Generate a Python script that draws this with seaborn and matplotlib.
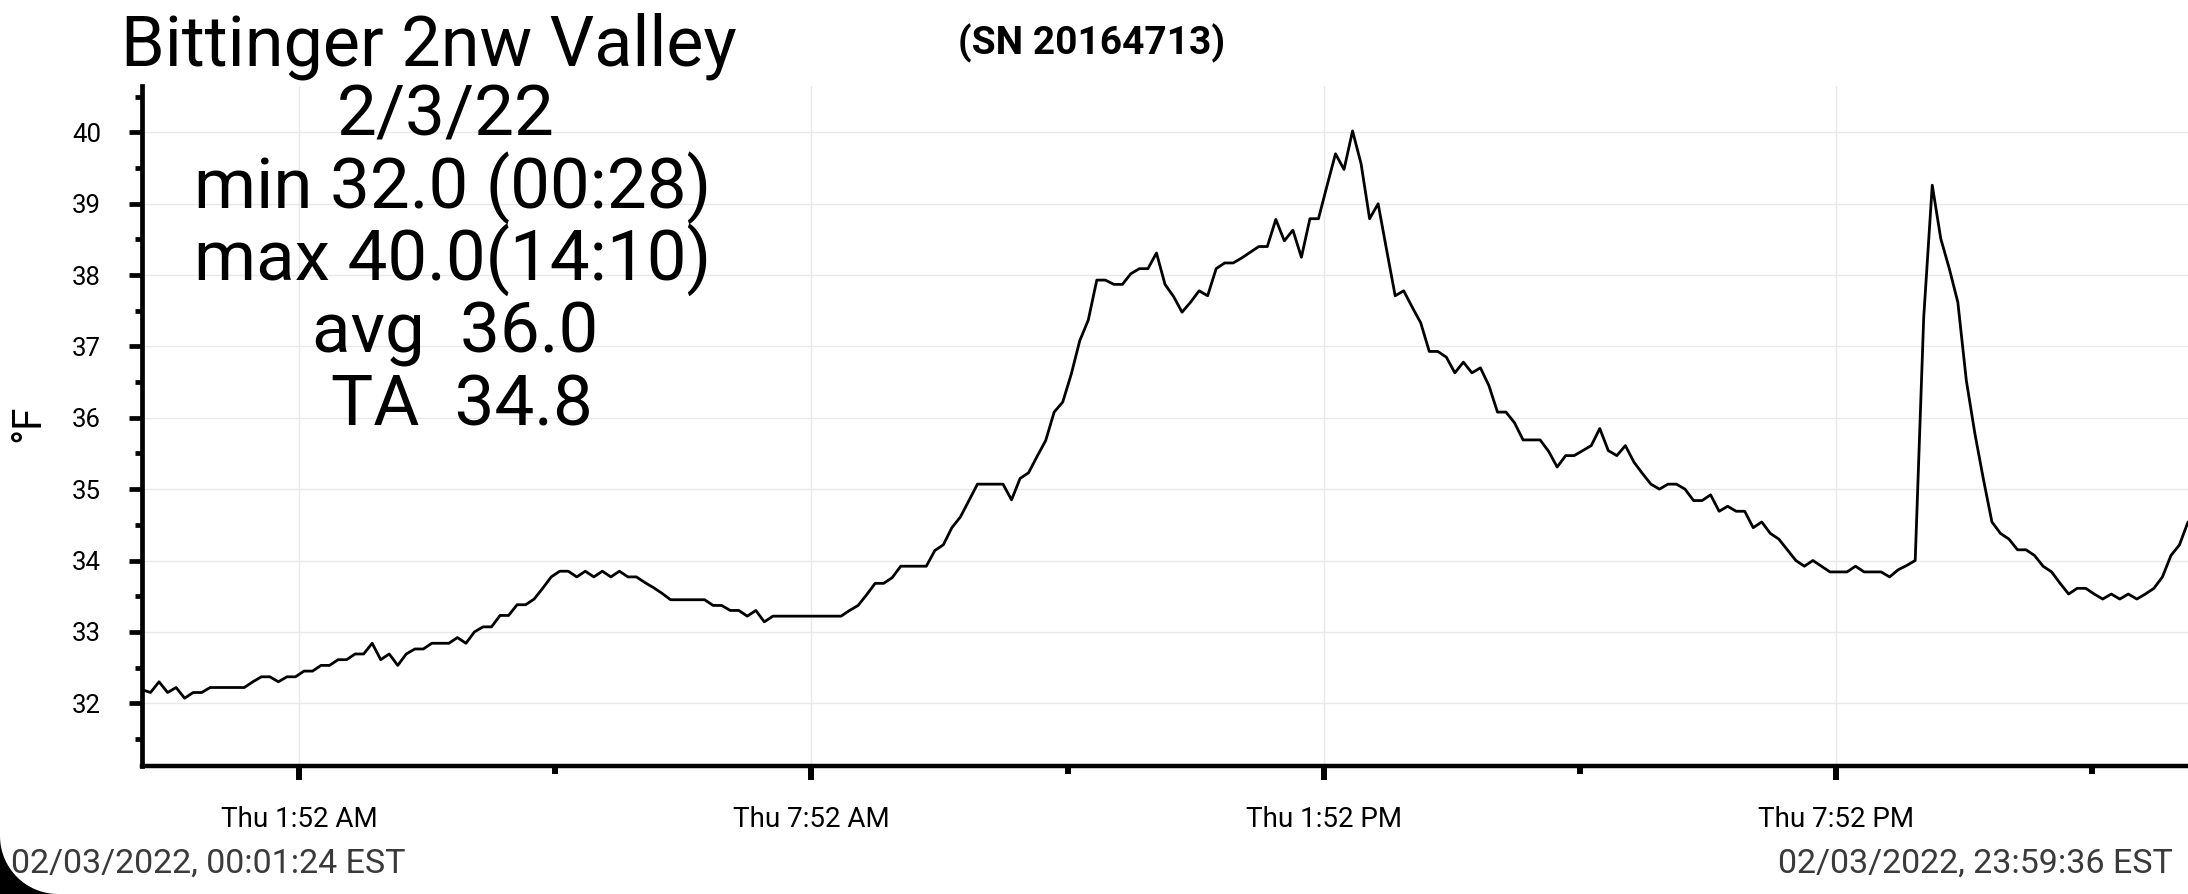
import matplotlib
matplotlib.use("Agg")
import matplotlib.pyplot as plt
import matplotlib.dates as mdates
from matplotlib.patches import Polygon
import seaborn as sns
import pandas as pd
import numpy as np

# ---- data ----
station = "Bittinger 2nw Valley"
serial = "(SN 20164713)"
stats_lines = ["2/3/22", "min 32.0 (00:28)", "max 40.0(14:10)", "avg  36.0", "TA  34.8"]
start_label = "02/03/2022, 00:01:24 EST"
end_label = "02/03/2022, 23:59:36 EST"
first_time = "2022-02-03 00:01:24"
last_time = "2022-02-03 23:59:36"

temps = [
    # 00:00 - 06:00
    32.19, 32.15, 32.30, 32.15, 32.22, 32.07, 32.15, 32.15, 32.22, 32.22,
    32.22, 32.22, 32.22, 32.30, 32.37, 32.37, 32.30, 32.37, 32.37, 32.45,
    32.45, 32.53, 32.53, 32.61, 32.61, 32.69, 32.69, 32.84, 32.61, 32.69,
    32.53, 32.69, 32.76, 32.76, 32.84, 32.84, 32.84, 32.92, 32.84, 33.00,
    33.07, 33.07, 33.23, 33.23, 33.38, 33.38, 33.46, 33.61, 33.77, 33.85,
    33.85, 33.77, 33.85, 33.77, 33.85, 33.77, 33.85, 33.77, 33.77, 33.69,
    33.62, 33.54,
    # 06:00 - 10:45
    33.45, 33.45, 33.45, 33.45, 33.45, 33.37, 33.37, 33.30, 33.30, 33.22,
    33.30, 33.14, 33.22, 33.22, 33.22, 33.22, 33.22, 33.22, 33.22, 33.22,
    33.22, 33.30, 33.37, 33.52, 33.68, 33.68, 33.76, 33.92, 33.92, 33.92,
    33.92, 34.14, 34.22, 34.46, 34.61, 34.84, 35.07, 35.07, 35.07, 35.07,
    34.85, 35.15, 35.23, 35.46, 35.68, 36.08, 36.22,
    # 10:45 - 15:15
    36.61, 37.08, 37.37, 37.93, 37.93, 37.87, 37.87, 38.02, 38.09, 38.09,
    38.31, 37.87, 37.70, 37.48, 37.62, 37.78, 37.71, 38.09, 38.17, 38.17,
    38.24, 38.32, 38.40, 38.40, 38.78, 38.48, 38.63, 38.25, 38.79, 38.79,
    39.25, 39.70, 39.48, 40.02, 39.56, 38.79, 39.00, 38.35, 37.71, 37.78,
    37.55, 37.33, 36.93, 36.93, 36.85,
    # 15:15 - 19:52
    36.63, 36.78, 36.63, 36.70, 36.45, 36.08, 36.08, 35.93, 35.69, 35.69,
    35.69, 35.53, 35.31, 35.47, 35.47, 35.54, 35.61, 35.85, 35.54, 35.47,
    35.61, 35.38, 35.22, 35.07, 35.00, 35.07, 35.07, 35.00, 34.84, 34.84,
    34.92, 34.69, 34.76, 34.69, 34.69, 34.46, 34.54, 34.38, 34.30, 34.15,
    34.00, 33.92, 34.00, 33.92, 33.84, 33.84,
    # 19:52 - 24:00
    33.84, 33.92, 33.84, 33.84, 33.84, 33.77, 33.87, 33.93, 34.00, 37.41,
    39.26, 38.51, 38.09, 37.62, 36.52, 35.78, 35.14, 34.54, 34.38, 34.30,
    34.15, 34.15, 34.07, 33.92, 33.84, 33.68, 33.53, 33.61, 33.61, 33.53,
    33.46, 33.53, 33.46, 33.53, 33.46, 33.53, 33.61, 33.77, 34.07, 34.22,
    34.54,
]

x_major = ["2022-02-03 01:52", "2022-02-03 07:52", "2022-02-03 13:52", "2022-02-03 19:52"]
x_minor = ["2022-02-03 04:52", "2022-02-03 10:52", "2022-02-03 16:52", "2022-02-03 22:52"]
y_major = [32, 33, 34, 35, 36, 37, 38, 39, 40]
y_minor = [31.5, 32.5, 33.5, 34.5, 35.5, 36.5, 37.5, 38.5, 39.5, 40.5]
y_range = [31.12, 40.65]

times = pd.date_range(first_time, last_time, periods=len(temps))
df = pd.DataFrame({"time": times, "temp": temps})

sns.set_style("white")
plt.rcParams["font.family"] = ["Roboto", "DejaVu Sans"]
plt.rcParams["text.color"] = "black"
plt.rcParams["xtick.color"] = "black"
plt.rcParams["ytick.color"] = "black"

W, H = 2188, 894
fig = plt.figure(figsize=(W / 100, H / 100), dpi=100)
ax = fig.add_axes([142 / W, 128 / H, 1 - 142 / W, 680 / H])

sns.lineplot(data=df, x="time", y="temp", color="black", linewidth=2.0, ax=ax)

ax.set_xlim(pd.Timestamp(first_time), pd.Timestamp(last_time))
ax.set_ylim(y_range)

ax.set_xticks(mdates.date2num(pd.to_datetime(x_major)))
ax.set_xticks(mdates.date2num(pd.to_datetime(x_minor)), minor=True)
ax.xaxis.set_major_formatter(mdates.DateFormatter("Thu %-I:%M %p"))
ax.set_yticks(y_major)
ax.set_yticks(y_minor, minor=True)

ax.grid(True, which="major", color="#e8e8e8", linewidth=1)
ax.set_xlabel("")
ax.set_ylabel("")

for side in ["top", "right"]:
    ax.spines[side].set_visible(False)
ax.spines["left"].set_linewidth(3.4)
ax.spines["bottom"].set_linewidth(3.2)
ax.spines["left"].set_color("black")
ax.spines["bottom"].set_color("black")

ax.tick_params(axis="y", which="major", direction="out", length=9.6, width=3.4,
               pad=20, labelsize=18.5, left=True, labelcolor="black")
ax.tick_params(axis="y", which="minor", direction="out", length=4.8, width=3.4, left=True)
ax.tick_params(axis="x", which="major", direction="out", length=10, width=4.3,
               pad=19, labelsize=20, bottom=True, labelcolor="black")
ax.tick_params(axis="x", which="minor", direction="out", length=6, width=4.3, bottom=True)

fig.text(28 / W, 1 - 423 / H, "°F", rotation=90, fontsize=29, ha="center", va="center")

# header and stats block
fig.text(121 / W, 1 - 66 / H, station, fontsize=50.5, ha="left", va="baseline")
fig.text(1092 / W, 1 - 43 / H, serial, fontsize=28, fontweight="bold", ha="center", va="center")
line_x = [446, 453, 453, 455, 462]
for i, line in enumerate(stats_lines):
    fig.text(line_x[i] / W, 1 - (135 + i * 72.6) / H, line, fontsize=51, ha="center", va="baseline")

# footer time stamps
fig.text(11 / W, 1 - 873 / H, start_label, fontsize=24.5, color="#3a3a3a", ha="left", va="baseline")
fig.text(2173 / W, 1 - 873 / H, end_label, fontsize=24.5, color="#3a3a3a", ha="right", va="baseline")

# rounded screen corner at the bottom left of the screenshot
r = 58
ang = np.linspace(np.pi, 1.5 * np.pi, 30)
arc = np.column_stack([r + r * np.cos(ang), r + r * np.sin(ang)])
corner = np.vstack([[[0, 0]], arc, [[r, 0]]])
fig.patches.append(Polygon(np.column_stack([corner[:, 0] / W, corner[:, 1] / H]),
                           closed=True, facecolor="black", edgecolor="none",
                           transform=fig.transFigure, figure=fig))

fig.savefig("out.png", dpi=100)
